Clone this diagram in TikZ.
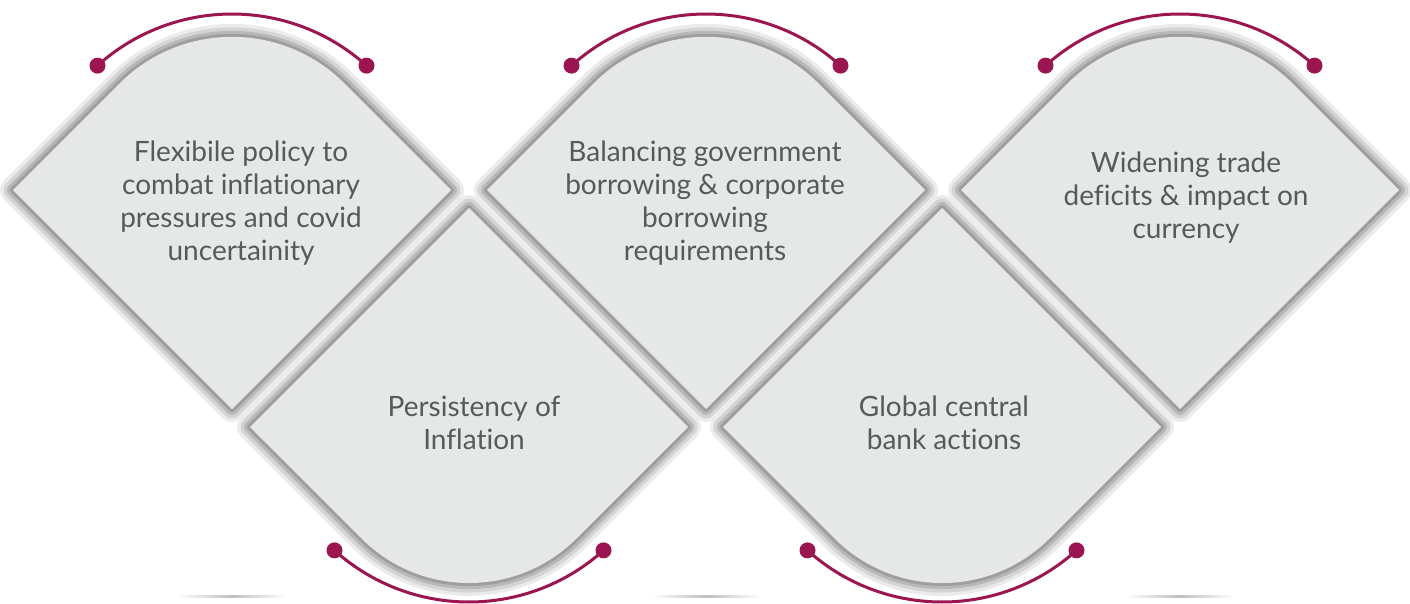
\documentclass[tikz,border=0pt]{standalone}
\usepackage{fontspec}
\setmainfont{Lato}[Ligatures=NoCommon]
\definecolor{tile}{HTML}{E6E7E7}
\definecolor{wine}{HTML}{9B1550}
\definecolor{ink}{HTML}{58595B}

\begin{document}
\begin{tikzpicture}[x=1pt,y=-1pt,
	uptile/.style={insert path={(#1-219,190) -- (#1-112.4,83.4) arc[start angle=225,end angle=315,radius=159] -- (#1+219,190) -- (#1,409) -- cycle}},
	downtile/.style={insert path={(#1,208) -- (#1+219,427) -- (#1+107.5,538.5) arc[start angle=45,end angle=135,radius=152] -- (#1-219,427) -- cycle}},
	tiletext/.style={text=ink, align=center, font=\fontsize{28}{33}\selectfont},
	rim/.style={line width=3pt, wine}]
	\useasboundingbox (0,0) rectangle (1410,603);
	% soft rim round the tiles
	\foreach \w/\g in {26/8,19/17,12/28,6/38}
	{
		\foreach \c in {232,706,1180}
			\draw[line width=\w pt, black!\g, line join=round, uptile=\c];
		\foreach \c in {469,942}
			\draw[line width=\w pt, black!\g, line join=round, downtile=\c];
	}
	\foreach \c in {232,706,1180}
	{
		\fill[tile, uptile=\c];
		\draw[rim] (\c,215) ++(228:201) arc[start angle=228,end angle=312,radius=201];
		\fill[wine] (\c,215) ++(228:201) circle (8);
		\fill[wine] (\c,215) ++(312:201) circle (8);
		\shade[left color=white, right color=white, middle color=black!25] (\c-55,595) rectangle (\c+55,597.5);
	}
	\foreach \c in {469,942}
	{
		\fill[tile, downtile=\c];
		\draw[rim] (\c,401) ++(48:201) arc[start angle=48,end angle=132,radius=201];
		\fill[wine] (\c,401) ++(48:201) circle (8);
		\fill[wine] (\c,401) ++(132:201) circle (8);
	}
	\node[tiletext] (flex) at (241,203) {Flexibile policy to\\combat inflationary\\pressures and covid\\uncertainity};
	\node[tiletext] (balance) at (705,203) {Balancing government\\borrowing \& corporate\\borrowing\\requirements};
	\node[tiletext] (widen) at (1186,198) {Widening trade\\deficits \& impact on\\currency};
	\node[tiletext] (persist) at (474,423) {Persistency of\\Inflation};
	\node[tiletext] (global) at (944,423) {Global central\\bank actions};
\end{tikzpicture}
\end{document}
